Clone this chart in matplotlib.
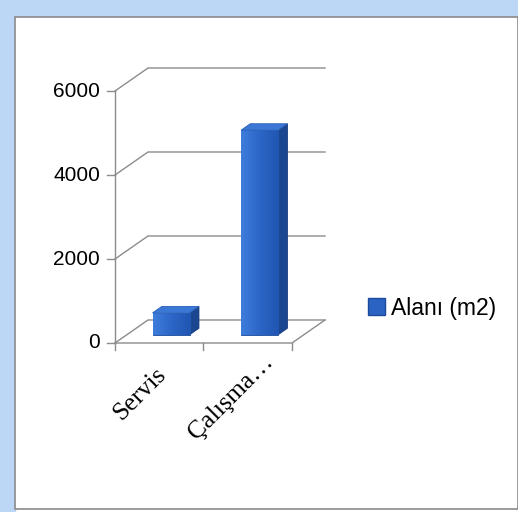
import numpy as np
import matplotlib.pyplot as plt
from matplotlib.patches import Polygon, Rectangle, Patch
from matplotlib.colors import LinearSegmentedColormap

# data
categories = ['Servis', 'Çalışma…']
values = [520, 4870]
series_name = 'Alanı (m2)'
yticks = [0, 2000, 4000, 6000]

# 3d look (oblique projection in data units)
dx = 0.373     # depth shift along x
dy = 548       # depth shift along y
f = 0.36       # bar front at this depth fraction
bd = 0.28      # bar depth fraction
bw = 0.42      # bar width

W, H = 518, 512
fig = plt.figure(figsize=(W/100, H/100), dpi=100)

# window frame
fig.patches.append(Rectangle((0, 0), 15/W, 1, transform=fig.transFigure,
                             color='#bcd6f6', zorder=-3))
fig.patches.append(Rectangle((0, 1-17/H), 1, 17/H, transform=fig.transFigure,
                             color='#bcd6f6', zorder=-3))
fig.patches.append(Rectangle((15/W, 3/H), 1-15/W, 1-20/H, transform=fig.transFigure,
                             facecolor='white', edgecolor='#8a8a8a', lw=1.2, zorder=-2))

ax = fig.add_axes([115/W, (H-343)/H, 210/W, 275/H])
ax.set_xlim(-0.5, 1.5+dx)
ax.set_ylim(0, 6000+dy)
ax.axis('off')

x0, x1 = -0.5, len(categories)-0.5
grid_c = '#8c8c8c'

# back wall gridlines with the diagonal on the side wall
for v in yticks:
    ax.plot([x0, x0+dx, x1+dx], [v, v+dy, v+dy], color=grid_c, lw=1, zorder=1,
            clip_on=False)
# floor
ax.plot([x0, x1, x1+dx], [0, 0, dy], color=grid_c, lw=1, zorder=1, clip_on=False)
# y axis
ax.plot([x0, x0], [0, 6000], color=grid_c, lw=1, zorder=1, clip_on=False)
for v in yticks:
    ax.plot([x0-0.09, x0], [v, v], color=grid_c, lw=1, clip_on=False)
    ax.text(x0-0.17, v, str(v), ha='right', va='center', fontsize=15,
            family='Liberation Sans')
# category ticks
for xt in np.arange(x0, x1+0.01, 1):
    ax.plot([xt, xt], [0, -170], color=grid_c, lw=1, clip_on=False)

# bars
cmap = LinearSegmentedColormap.from_list('bar', ['#3e7ddb', '#2c66c6', '#2156b2'])
grad = np.linspace(0, 1, 64).reshape(1, -1)
for i, v in enumerate(values):
    xl = i - bw/2 + f*dx
    xr = xl + bw
    yb = f*dy
    ox, oy = bd*dx, bd*dy
    bars = ax.bar(xl, v, width=bw, bottom=yb, align='edge', color='#2b63c2',
                  edgecolor='#1d4b9c', lw=0.6, zorder=4)
    im = ax.imshow(grad, extent=(xl, xr, yb, yb+v), aspect='auto', cmap=cmap,
                   zorder=4.5)
    im.set_clip_path(bars[0])
    side = Polygon([(xr, yb), (xr+ox, yb+oy), (xr+ox, yb+v+oy), (xr, yb+v)],
                   closed=True, facecolor='#1b4690', edgecolor='#173d80', lw=0.6, zorder=3)
    top = Polygon([(xl, yb+v), (xr, yb+v), (xr+ox, yb+v+oy), (xl+ox, yb+v+oy)],
                  closed=True, facecolor='#3b78d6', edgecolor='#2a5fb8', lw=0.6, zorder=5)
    ax.add_patch(side)
    ax.add_patch(top)
ax.set_xlim(-0.5, 1.5+dx)
ax.set_ylim(0, 6000+dy)

# category labels
for i, c in enumerate(categories):
    ax.text(i - 0.05 + 0.21*i, -480 + 290*i, c, rotation=45, ha='right', va='top',
            rotation_mode='anchor', fontsize=18.5, family='Liberation Serif')

# legend
h = Patch(facecolor='#2b63c2', edgecolor='#1d4b9c')
fig.legend([h], [series_name], loc='center left',
           bbox_to_anchor=(347/W, 1-308/H), frameon=False,
           prop={'family': 'Liberation Sans', 'size': 16.5},
           handlelength=0.75, handleheight=0.75, handletextpad=0.25)

fig.savefig('out.png', dpi=100)
